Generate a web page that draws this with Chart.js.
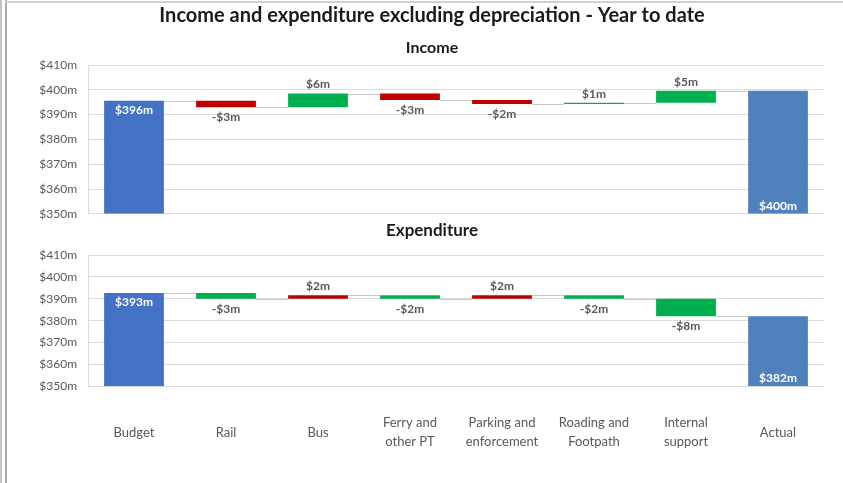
<!DOCTYPE html>
<html>
<head>
<meta charset="utf-8">
<script src="https://cdn.jsdelivr.net/npm/chart.js@4.4.1/dist/chart.umd.min.js"></script>
<style>
  html, body { margin: 0; padding: 0; background: #fff; }
  #wrap { position: relative; width: 843px; height: 483px; overflow: hidden; }
  .line { position: absolute; }
  #cnt_income { position: absolute; left: 0; top: 0; width: 843px; height: 232px; }
  #cnt_exp { position: absolute; left: 0; top: 218px; width: 843px; height: 272px; }
</style>
</head>
<body>
<div id="wrap">
  <div class="line" style="left:0;top:0;width:2px;height:483px;background:#c4c4c4"></div>
  <div class="line" style="left:5px;top:0;width:2px;height:483px;background:#a8a8a8"></div>
  <div class="line" style="left:5px;top:1px;width:838px;height:2px;background:#cfcfcf"></div>
  <div id="cnt_income"><canvas id="income"></canvas></div>
  <div id="cnt_exp"><canvas id="exp"></canvas></div>
</div>
<script>
const categories = [
  ['Budget'], ['Rail'], ['Bus'], ['Ferry and', 'other PT'],
  ['Parking and', 'enforcement'], ['Roading and', 'Footpath'],
  ['Internal', 'support'], ['Actual']
];

// $m, budget then the movement of each area, actual is the running total
const income_budget = 395.6;
const income_changes = [-2.6, 5.5, -2.6, -1.6, 0.5, 4.8];

const exp_budget = 392.6;
const exp_changes = [-2.6, 1.6, -1.6, 1.6, -1.6, -8.0];

const y_min = 350;
const y_max = 410;
const y_step = 10;

const blue_budget = '#4472C4';
const blue_actual = '#4F81BD';
const green = '#00B050';
const red = '#C00000';
const font_family = "Lato, 'Open Sans', sans-serif";

const money = (v)=>{
  return (v < 0 ? '-' : '') + '$' + Math.round(Math.abs(v)) + 'm';
}

// build [from, to] pairs for the floating bars
const build_steps = (budget, changes, up_good)=>{
  const steps = [];
  let total = budget;
  steps.push({kind: 'total', from: y_min, to: budget, value: budget, color: blue_budget});
  changes.map(c=>{
    const from = total;
    total = total + c;
    const good = up_good ? c >= 0 : c < 0;
    steps.push({kind: 'change', from: from, to: total, value: c, color: good ? green : red});
  });
  steps.push({kind: 'total', from: y_min, to: total, value: total, color: blue_actual, bottom: true});
  return steps;
}

// connector lines + value labels
const waterfall = {
  id: 'waterfall',
  beforeDatasetsDraw(chart){
    const steps = chart.options.plugins.waterfall.steps;
    const meta = chart.getDatasetMeta(0);
    const ys = chart.scales.y;
    const ctx = chart.ctx;
    ctx.save();
    ctx.strokeStyle = '#c8c8c8';
    ctx.lineWidth = 1;
    for(let i = 0; i < steps.length - 1; i++){
      const a = meta.data[i];
      const b = meta.data[i + 1];
      const y = Math.round(ys.getPixelForValue(steps[i].to)) + 0.5;
      ctx.beginPath();
      ctx.moveTo(a.x + a.width / 2, y);
      ctx.lineTo(b.x - b.width / 2, y);
      ctx.stroke();
    }
    ctx.restore();
  },
  afterDatasetsDraw(chart){
    const steps = chart.options.plugins.waterfall.steps;
    const meta = chart.getDatasetMeta(0);
    const ys = chart.scales.y;
    const ctx = chart.ctx;
    ctx.save();
    ctx.font = 'bold 12px ' + font_family;
    ctx.textAlign = 'center';
    ctx.textBaseline = 'middle';
    steps.map((s, i)=>{
      const bar = meta.data[i];
      if(s.kind == 'total'){
        ctx.fillStyle = '#ffffff';
        if(s.bottom){
          ctx.fillText(money(s.value), bar.x, ys.getPixelForValue(s.from) - 8);
        }else{
          ctx.fillText(money(s.value), bar.x, ys.getPixelForValue(s.to) + 9);
        }
      }else{
        ctx.fillStyle = '#595959';
        const hi = ys.getPixelForValue(Math.max(s.from, s.to));
        const lo = ys.getPixelForValue(Math.min(s.from, s.to));
        if(s.value >= 0){
          ctx.fillText(money(s.value), bar.x, hi - 9);
        }else{
          ctx.fillText(money(s.value), bar.x, lo + 10);
        }
      }
    });
    ctx.restore();
  }
}

const make_chart = (canvas, steps, opts)=>{
  return new Chart(canvas, {
    type: 'bar',
    data: {
      labels: categories,
      datasets: [{
        data: steps.map(s=> [s.from, s.to]),
        backgroundColor: steps.map(s=> s.color),
        borderWidth: 0,
        borderSkipped: false,
        categoryPercentage: 1,
        barPercentage: 0.65
      }]
    },
    options: {
      responsive: true,
      maintainAspectRatio: false,
      animation: false,
      layout: {padding: opts.padding},
      plugins: {
        legend: {display: false},
        tooltip: {enabled: false},
        title: opts.title,
        subtitle: opts.subtitle,
        waterfall: {steps: steps}
      },
      scales: {
        x: opts.x,
        y: {
          min: y_min,
          max: y_max,
          afterFit: (scale)=>{ scale.width = 48; },
          grid: {color: '#dcdcdc', drawTicks: false},
          border: {display: true, color: '#dcdcdc'},
          ticks: {
            stepSize: y_step,
            autoSkip: false,
            padding: 11,
            color: '#595959',
            font: {family: font_family, size: 12},
            callback: (v)=> '$' + v + 'm'
          }
        }
      }
    },
    plugins: [waterfall]
  });
}

make_chart(document.querySelector('#income'), build_steps(income_budget, income_changes, true), {
  padding: {left: 40, right: 19, top: 0, bottom: 2},
  title: {
    display: true,
    text: 'Income and expenditure excluding depreciation - Year to date',
    color: '#1a1a1a',
    font: {family: font_family, size: 20, weight: 'bold'},
    padding: {top: 4, bottom: 0}
  },
  subtitle: {
    display: true,
    text: 'Income',
    color: '#1a1a1a',
    font: {family: font_family, size: 16, weight: 'bold'},
    padding: {top: 10.4, bottom: 7.4}
  },
  x: {display: false}
});

make_chart(document.querySelector('#exp'), build_steps(exp_budget, exp_changes, false), {
  padding: {left: 40, right: 19, top: 0, bottom: 0},
  title: {
    display: true,
    text: 'Expenditure',
    color: '#1a1a1a',
    font: {family: font_family, size: 17, weight: 'bold'},
    padding: {top: 2, bottom: 14.6}
  },
  subtitle: {display: false},
  x: {
    grid: {display: false},
    border: {display: false},
    ticks: {
      padding: 29,
      maxRotation: 0,
      autoSkip: false,
      crossAlign: 'center',
      color: '#595959',
      font: {family: font_family, size: 13, lineHeight: 1.45}
    }
  }
});
</script>
</body>
</html>
